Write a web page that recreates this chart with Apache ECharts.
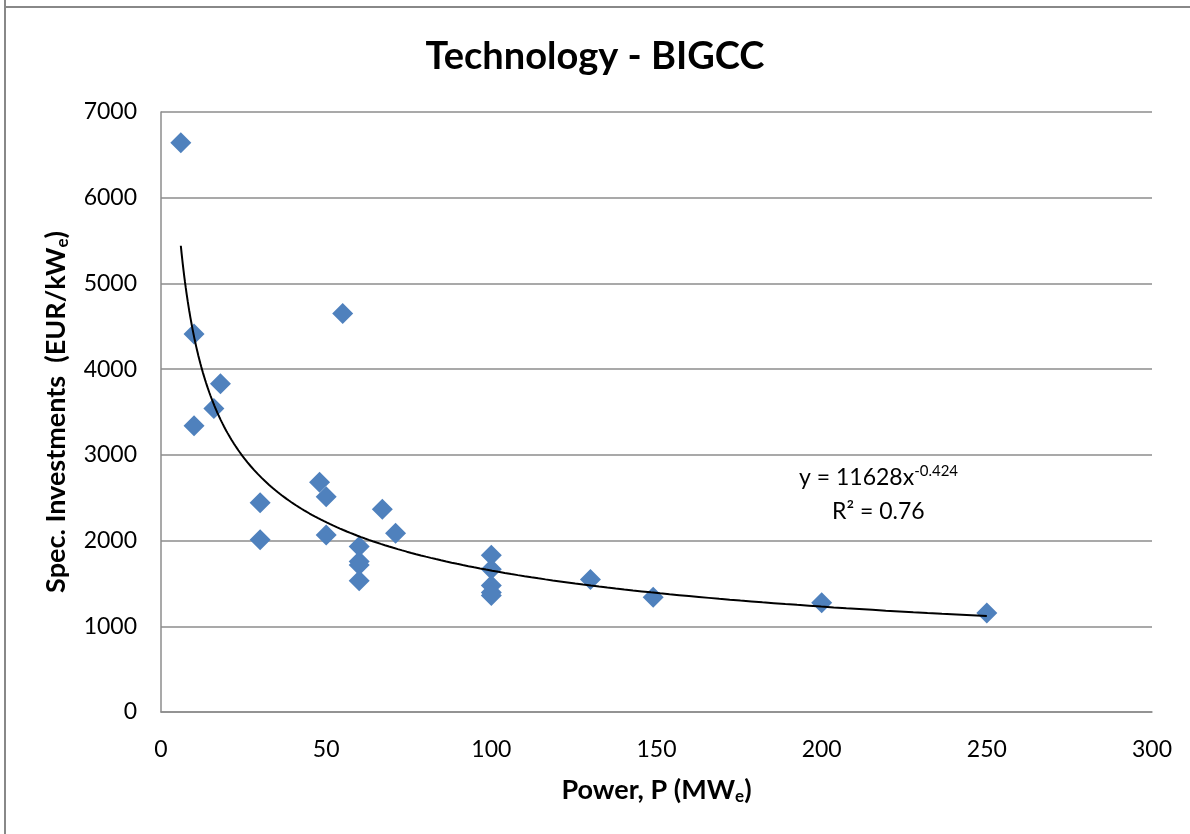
<!DOCTYPE html>
<html>
<head>
<meta charset="utf-8">
<script src="https://cdn.jsdelivr.net/npm/echarts@6/dist/echarts.min.js"></script>
<style>
  html, body { margin: 0; padding: 0; background: #fff; }
  #chart { width: 1190px; height: 834px; }
</style>
</head>
<body>
<div id="chart"></div>
<script>
// measured points (power MWe, spec. investment EUR/kWe)
const power = [6, 10, 55, 18, 16, 10, 30, 30, 48, 50, 50, 67, 71, 60, 60, 60, 60,
  100, 100, 100, 100, 100, 130, 149, 200, 250];
const invest = [6640, 4410, 4650, 3830, 3540, 3340, 2440, 2010, 2680, 2510, 2065, 2365, 2085,
  1930, 1755, 1715, 1530, 1830, 1665, 1475, 1395, 1360, 1545, 1340, 1275, 1155];

// power trendline as printed on the chart: y = 11628 x^-0.424
const trendA = 11628;
const trendB = -0.424;
const trendFrom = 6;
const trendTo = 250;

const xTicks = [0, 50, 100, 150, 200, 250, 300];
const yTicks = [0, 1000, 2000, 3000, 4000, 5000, 6000, 7000];

const font = "Lato, 'Open Sans', sans-serif";

const points = power.map((p, i) => [p, invest[i]]);

const trend = [];
for (let i = 0; i <= 200; i++) {
    const x = trendFrom * Math.pow(trendTo / trendFrom, i / 200);
    trend.push([x, trendA * Math.pow(x, trendB)]);
}

const chart = echarts.init(document.getElementById("chart"));

const gridColor = "#8c8c8c";

const nameRich = {
    b: { fontFamily: font, fontWeight: "bold", fontSize: 27, color: "#000" },
    s: { fontFamily: font, fontWeight: "bold", fontSize: 17, color: "#000", padding: [12, 0, 0, 0] }
};

chart.setOption({
    animation: false,
    backgroundColor: "#fff",
    title: {
        text: "Technology - BIGCC",
        left: "center",
        top: 33,
        textStyle: { fontFamily: font, fontWeight: "bold", fontSize: 38, color: "#000" }
    },
    grid: { left: 161, right: 38, top: 112, bottom: 122 },
    xAxis: {
        type: "value",
        min: xTicks[0],
        max: xTicks[xTicks.length - 1],
        interval: 50,
        name: "{b|Power, P (MW}{s|e}{b|)}",
        nameLocation: "middle",
        nameGap: 64,
        nameTextStyle: { rich: nameRich },
        axisLine: { show: true, lineStyle: { color: gridColor, width: 1.5 } },
        axisTick: { show: false },
        splitLine: { show: false },
        axisLabel: { margin: 26, fontFamily: font, fontSize: 23, color: "#000", formatter: v => String(v) }
    },
    yAxis: {
        type: "value",
        min: yTicks[0],
        max: yTicks[yTicks.length - 1],
        interval: 1000,
        name: "{b|Spec. Investments  (EUR/kW}{s|e}{b|)}",
        nameLocation: "middle",
        nameGap: 90,
        nameTextStyle: { rich: nameRich },
        axisLine: { show: true, lineStyle: { color: gridColor, width: 1.5 } },
        axisTick: { show: false },
        splitLine: { show: true, lineStyle: { color: gridColor, width: 1.5 } },
        axisLabel: { margin: 24, fontFamily: font, fontSize: 23, color: "#000", formatter: v => String(v) }
    },
    graphic: [
        {
            type: "line",
            shape: { x1: 5, y1: 0, x2: 5, y2: 834 },
            style: { stroke: "#888", lineWidth: 2 }
        },
        {
            type: "line",
            shape: { x1: 4, y1: 7, x2: 1190, y2: 7 },
            style: { stroke: "#888", lineWidth: 2 }
        },
        {
            type: "text",
            left: 799,
            top: 464,
            style: {
                text: "{n|y = 11628x}{p|-0.424}",
                rich: {
                    n: { fontFamily: font, fontSize: 23, color: "#000" },
                    p: { fontFamily: font, fontSize: 15, color: "#000", padding: [0, 0, 13, 0] }
                }
            }
        },
        {
            type: "text",
            left: 832,
            top: 500,
            style: {
                text: "R² = 0.76",
                fontFamily: font,
                fontSize: 23,
                fill: "#000"
            }
        }
    ],
    series: [
        {
            type: "line",
            data: trend,
            showSymbol: false,
            lineStyle: { color: "#000", width: 2 },
            z: 3
        },
        {
            type: "scatter",
            data: points,
            symbol: "diamond",
            symbolSize: 21,
            itemStyle: { color: "#4f81bd", opacity: 1 },
            z: 2
        }
    ]
});
</script>
</body>
</html>
